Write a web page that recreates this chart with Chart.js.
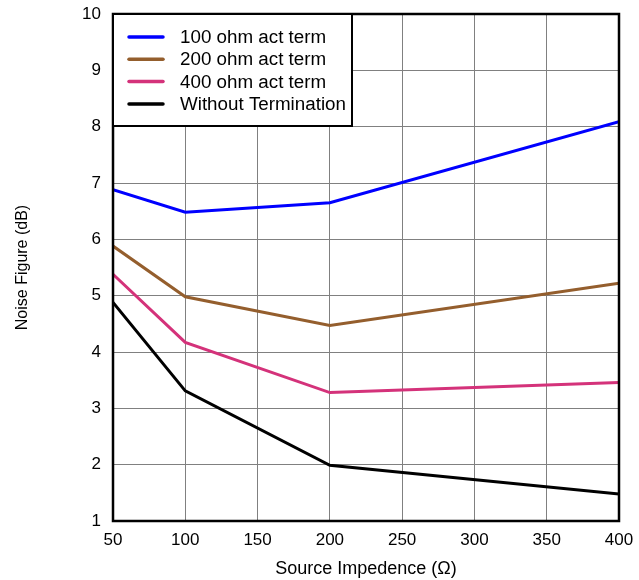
<!DOCTYPE html>
<html>
<head>
<meta charset="utf-8">
<script src="https://cdn.jsdelivr.net/npm/chart.js@4"></script>
<style>
  html, body { margin: 0; padding: 0; background: #fff; }
  #wrap { width: 639px; height: 580px; }
</style>
</head>
<body>
<div id="wrap"><canvas id="nf-chart" width="639" height="580"></canvas></div>
<script>
// source impedance (ohm)
const impedance = [50, 100, 200, 400];
const seriesNames = ['100 ohm act term', '200 ohm act term', '400 ohm act term', 'Without Termination'];
const nf100 = [6.88, 6.48, 6.65, 8.09];
const nf200 = [5.88, 4.98, 4.47, 5.22];
const nf400 = [5.38, 4.17, 3.28, 3.46];
const nfNone = [4.88, 3.31, 1.99, 1.48];
const xTicks = [50, 100, 150, 200, 250, 300, 350, 400];
const yTicks = [1, 2, 3, 4, 5, 6, 7, 8, 9, 10];

const colors = ['#0000ff', '#945e2d', '#d4327a', '#000000'];
const FONT = 'Liberation Sans, Arial, sans-serif';

const toPoints = (vals) => vals.map((v, i) => ({ x: impedance[i], y: v }));

const frameAndLegend = {
    id: 'frameAndLegend',
    afterDraw(chart) {
        const ctx = chart.ctx;
        const a = chart.chartArea;
        ctx.save();
        // plot frame
        ctx.strokeStyle = '#000';
        ctx.lineWidth = 2.5;
        ctx.strokeRect(a.left, a.top, a.right - a.left, a.bottom - a.top);

        // legend box in upper left
        const bx = a.left, by = a.top, bw = 239, bh = 112;
        ctx.fillStyle = '#fff';
        ctx.fillRect(bx, by, bw, bh);
        ctx.lineWidth = 2;
        ctx.strokeRect(bx, by, bw, bh);
        ctx.font = '18.8px ' + FONT;
        ctx.textBaseline = 'middle';
        chart.data.datasets.forEach((ds, i) => {
            const y = by + 23 + i * 22.3;
            ctx.strokeStyle = ds.borderColor;
            ctx.lineWidth = 3.5;
            ctx.lineCap = 'round';
            ctx.beginPath();
            ctx.moveTo(bx + 16, y);
            ctx.lineTo(bx + 50, y);
            ctx.stroke();
            ctx.fillStyle = '#000';
            ctx.fillText(ds.label, bx + 67, y + 1);
        });
        ctx.restore();
    }
};

const datasets = [nf100, nf200, nf400, nfNone].map((vals, i) => ({
    label: seriesNames[i],
    data: toPoints(vals),
    borderColor: colors[i],
    backgroundColor: colors[i],
    borderWidth: 3,
    pointRadius: 0,
    tension: 0
}));

new Chart(document.getElementById('nf-chart').getContext('2d'), {
    type: 'line',
    data: { datasets: datasets },
    options: {
        responsive: false,
        animation: false,
        layout: { padding: { top: 14, right: 20, left: 0, bottom: 0 } },
        plugins: {
            legend: { display: false },
            tooltip: { enabled: false }
        },
        scales: {
            x: {
                type: 'linear',
                min: 50,
                max: 400,
                afterBuildTicks: (s) => { s.ticks = xTicks.map(v => ({ value: v })); },
                afterFit: (s) => { s.height = 59; s.paddingLeft = 0; s.paddingRight = 0; },
                grid: { color: '#808080', lineWidth: 1, drawTicks: false },
                border: { display: false },
                ticks: { color: '#000', font: { family: FONT, size: 17 }, padding: 9, maxRotation: 0 },
                title: {
                    display: true,
                    text: 'Source Impedence (\u03A9)',
                    color: '#000',
                    font: { family: FONT, size: 18 },
                    padding: { top: 6, bottom: 0 }
                }
            },
            y: {
                min: 1,
                max: 10,
                afterBuildTicks: (s) => { s.ticks = yTicks.map(v => ({ value: v })); },
                afterFit: (s) => { s.width = 113; s.paddingTop = 0; s.paddingBottom = 0; },
                grid: { color: '#808080', lineWidth: 1, drawTicks: false },
                border: { display: false },
                ticks: { color: '#000', font: { family: FONT, size: 17 }, padding: 12 },
                title: {
                    display: true,
                    text: 'Noise Figure (dB)',
                    color: '#000',
                    font: { family: FONT, size: 16 },
                    padding: { top: 13, bottom: 0 }
                }
            }
        }
    },
    plugins: [frameAndLegend]
});
</script>
</body>
</html>
